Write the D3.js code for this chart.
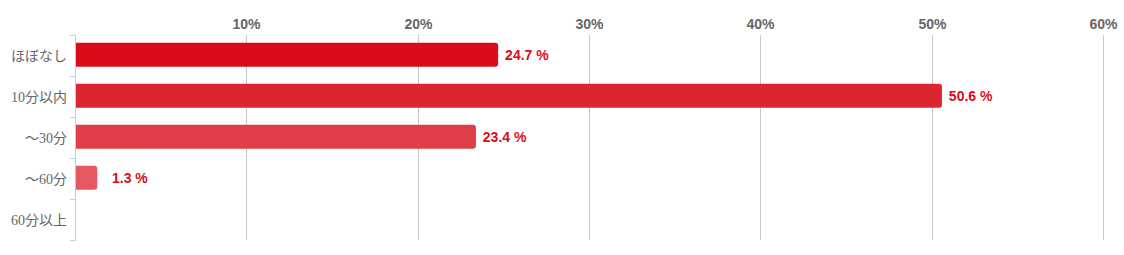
<!DOCTYPE html>
<html>
<head>
<meta charset="utf-8">
<script src="https://cdn.jsdelivr.net/npm/d3@7"></script>
<style>
  body { margin: 0; background: #fff; }
  svg { display: block; }
</style>
</head>
<body>
<svg id="chart" width="1124" height="255"></svg>
<script>
// categories + values
const categories = ['ほぼなし', '10分以内', '～30分', '～60分', '60分以上'];
const values = [24.7, 50.6, 23.4, 1.3, 0];
const barColors = ['#d90d1a', '#dd2532', '#e03f4a', '#e55761', '#e96d76'];
const tickValues = [10, 20, 30, 40, 50, 60];

const svg = d3.select('#chart');

const x = d3.scaleLinear().domain([0, 60]).range([75, 1103]);
const y = d3.scaleBand()
  .domain(categories)
  .range([35, 240])
  .paddingInner(0.415)
  .paddingOuter(0.2075)
  .align(0.45);

// gridlines
svg.append('g')
  .selectAll('line')
  .data(tickValues)
  .enter()
  .append('line')
  .attr('x1', d => Math.round(x(d)) + 0.5)
  .attr('x2', d => Math.round(x(d)) + 0.5)
  .attr('y1', 35)
  .attr('y2', 240)
  .attr('stroke', '#c8c8c8')
  .attr('stroke-width', 1);

// top tick labels
svg.append('g')
  .selectAll('text')
  .data(tickValues)
  .enter()
  .append('text')
  .attr('x', d => Math.round(x(d)) + 0.5)
  .attr('y', 29)
  .attr('text-anchor', 'middle')
  .style('font-family', '"Liberation Sans", Arial, sans-serif')
  .style('font-size', '14px')
  .style('font-weight', 'bold')
  .style('fill', '#666')
  .text(d => d + '%');

// bars (rounded right end)
svg.append('g')
  .selectAll('path')
  .data(values)
  .enter()
  .append('path')
  .attr('fill', (d, i) => barColors[i])
  .attr('d', (d, i) => {
    const x0 = x(0) + 1, x1 = x(d);
    if (x1 - x0 <= 0) return '';
    const y0 = y(categories[i]), h = y.bandwidth(), r = 3;
    return `M${x0},${y0}H${x1 - r}Q${x1},${y0} ${x1},${y0 + r}V${y0 + h - r}Q${x1},${y0 + h} ${x1 - r},${y0 + h}H${x0}Z`;
  });

// value labels, right aligned a fixed distance past the bar end
svg.append('g')
  .selectAll('text')
  .data(values.filter(d => d > 0))
  .enter()
  .append('text')
  .attr('x', d => x(d) + 50.5)
  .attr('y', (d, i) => y(categories[i]) + y.bandwidth() / 2 + 5)
  .attr('text-anchor', 'end')
  .style('font-family', '"Liberation Sans", Arial, sans-serif')
  .style('font-size', '14px')
  .style('font-weight', 'bold')
  .style('fill', '#d90d1a')
  .text(d => d + ' %');

// left axis line + ticks
const axis = svg.append('g');
axis.append('line')
  .attr('x1', 75.5).attr('x2', 75.5)
  .attr('y1', 35).attr('y2', 240.5)
  .attr('stroke', '#c0d0e0');
axis.selectAll('line.tick')
  .data(d3.range(categories.length + 1))
  .enter()
  .append('line')
  .classed('tick', true)
  .attr('x1', 70).attr('x2', 75)
  .attr('y1', i => 35 + i * y.step() + 0.5)
  .attr('y2', i => 35 + i * y.step() + 0.5)
  .attr('stroke', '#c0d0e0');

// category labels
axis.selectAll('text')
  .data(categories)
  .enter()
  .append('text')
  .attr('x', 67)
  .attr('y', d => y.paddingOuter() ? 35 + categories.indexOf(d) * y.step() + y.step() / 2 + 5 : 0)
  .attr('text-anchor', 'end')
  .style('font-family', '"Liberation Serif", "Noto Sans CJK JP", serif')
  .style('font-size', '14px')
  .style('fill', '#666')
  .text(d => d);
</script>
</body>
</html>
